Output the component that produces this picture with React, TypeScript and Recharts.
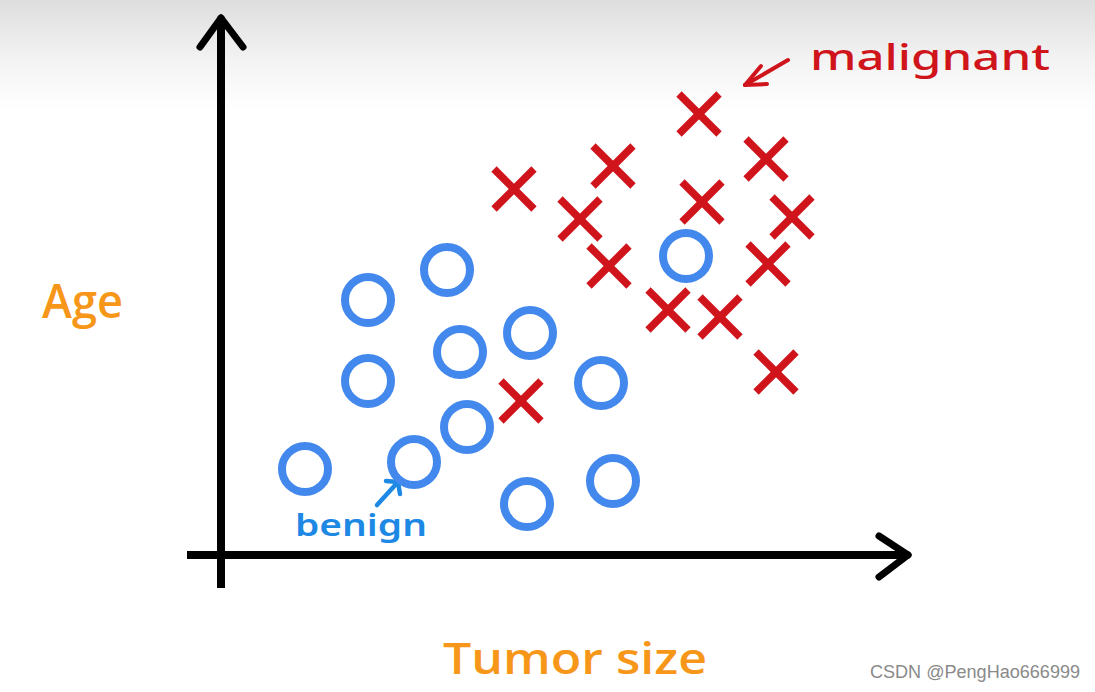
import React from "react";
import { ScatterChart, Scatter, XAxis, YAxis, ReferenceLine } from "recharts";

// Tumor size (x) and Age (y) readings, arbitrary units, origin at the axes' crossing
const benignTumor = [14.7, 22.6, 14.7, 23.9, 30.9, 38.0, 24.6, 8.4, 19.3, 30.6, 39.2, 46.5];
const benignAge = [25.5, 28.5, 17.4, 20.3, 22.2, 17.2, 12.8, 8.6, 9.3, 5.1, 7.4, 29.9];
const malignantTumor = [47.8, 29.3, 39.2, 54.5, 35.9, 48.1, 57.1, 38.8, 54.7, 44.7, 49.9, 55.5, 30.0];
const malignantAge = [44.1, 36.6, 38.9, 39.6, 33.6, 35.3, 33.8, 28.9, 29.1, 24.5, 23.8, 18.3, 15.4];

const xLabel = "Tumor size";
const yLabel = "Age";
const benignLabel = "benign";
const malignantLabel = "malignant";
const watermark = "CSDN @PengHao666999";

const benignData = benignTumor.map((x, i) => ({ x, y: benignAge[i] }));
const malignantData = malignantTumor.map((x, i) => ({ x, y: malignantAge[i] }));

const W = 1095;
const H = 692;
const BLUE = "#4388EC";
const RED = "#D0141B";
const ORANGE = "#F7971A";

const Circle = (props: any) => {
  const { cx, cy } = props;
  if (cx == null || cy == null) return null;
  return <circle cx={cx} cy={cy} r={23} fill="none" stroke={BLUE} strokeWidth={8} />;
};

const Cross = (props: any) => {
  const { cx, cy } = props;
  if (cx == null || cy == null) return null;
  const s = 20;
  return (
    <g stroke={RED} strokeWidth={7.5} strokeLinecap="butt">
      <line x1={cx - s} y1={cy - s} x2={cx + s} y2={cy + s} />
      <line x1={cx - s} y1={cy + s} x2={cx + s} y2={cy - s} />
    </g>
  );
};

type Seg = [[number, number], [number, number]];
const axisSegs: Seg[] = [
  [[0, -3.3], [0, 53.7]],
  [[-3.4, 0], [68.7, 0]],
  [[0, 53.7], [-2.1, 50.8]],
  [[0, 53.7], [2.2, 50.8]],
  [[68.7, 0], [65.8, 1.9]],
  [[68.7, 0], [65.8, -2.2]],
];
const malignantArrow: Seg[] = [
  [[56.7, 49.5], [52.4, 47.0]],
  [[52.4, 47.0], [54.0, 48.9]],
  [[52.4, 47.0], [54.6, 47.1]],
];
const benignArrow: Seg[] = [
  [[15.6, 5.0], [17.7, 7.3]],
  [[17.7, 7.3], [16.5, 7.4]],
  [[17.7, 7.3], [17.9, 6.1]],
];

export default function App() {
  return (
    <div
      style={{
        position: "absolute",
        left: 0,
        top: 0,
        width: W,
        height: H,
        background: "linear-gradient(#dedede 0px, #f3f3f3 60px, #ffffff 110px)",
      }}
    >
      <ScatterChart width={W} height={H} margin={{ top: 0, right: 0, bottom: 0, left: 0 }}>
        <XAxis type="number" dataKey="x" domain={[-22.1, 87.4]} hide allowDataOverflow />
        <YAxis type="number" dataKey="y" domain={[-13.7, 55.5]} hide allowDataOverflow />
        {axisSegs.map((s, i) => (
          <ReferenceLine
            key={"a" + i}
            segment={[{ x: s[0][0], y: s[0][1] }, { x: s[1][0], y: s[1][1] }]}
            stroke="#000"
            strokeWidth={i < 2 ? 8 : 7}
            strokeLinecap={i < 2 ? "butt" : "round"}
            ifOverflow="visible"
          />
        ))}
        {malignantArrow.map((s, i) => (
          <ReferenceLine
            key={"m" + i}
            segment={[{ x: s[0][0], y: s[0][1] }, { x: s[1][0], y: s[1][1] }]}
            stroke={RED}
            strokeWidth={4}
            strokeLinecap="round"
            ifOverflow="visible"
          />
        ))}
        {benignArrow.map((s, i) => (
          <ReferenceLine
            key={"b" + i}
            segment={[{ x: s[0][0], y: s[0][1] }, { x: s[1][0], y: s[1][1] }]}
            stroke="#1E88E5"
            strokeWidth={4.5}
            strokeLinecap="round"
            ifOverflow="visible"
          />
        ))}
        <Scatter data={benignData} shape={Circle} isAnimationActive={false} />
        <Scatter data={malignantData} shape={Cross} isAnimationActive={false} />
      </ScatterChart>
      <svg
        width={W}
        height={H}
        style={{ position: "absolute", left: 0, top: 0, pointerEvents: "none" }}
      >
        <text x={42} y={318} fontFamily="'Open Sans', sans-serif" fontWeight={600} fontSize={47} fill={ORANGE} textLength={81} lengthAdjust="spacingAndGlyphs">
          {yLabel}
        </text>
        <text x={443} y={674} fontFamily="'Open Sans', sans-serif" fontWeight={600} fontSize={43} fill={ORANGE} textLength={264} lengthAdjust="spacingAndGlyphs">
          {xLabel}
        </text>
        <text x={810} y={70} fontFamily="'Noto Sans', sans-serif" fontWeight={500} fontSize={36} fill={RED} textLength={240} lengthAdjust="spacingAndGlyphs">
          {malignantLabel}
        </text>
        <text x={295} y={536} fontFamily="'Noto Sans', sans-serif" fontWeight={600} fontSize={31} fill="#1E88E5" textLength={132} lengthAdjust="spacingAndGlyphs">
          {benignLabel}
        </text>
        <text x={870} y={678} fontFamily="'Liberation Sans', Arial, sans-serif" fontSize={18} fill="#8a8a8a" textLength={210} lengthAdjust="spacingAndGlyphs">
          {watermark}
        </text>
      </svg>
    </div>
  );
}
